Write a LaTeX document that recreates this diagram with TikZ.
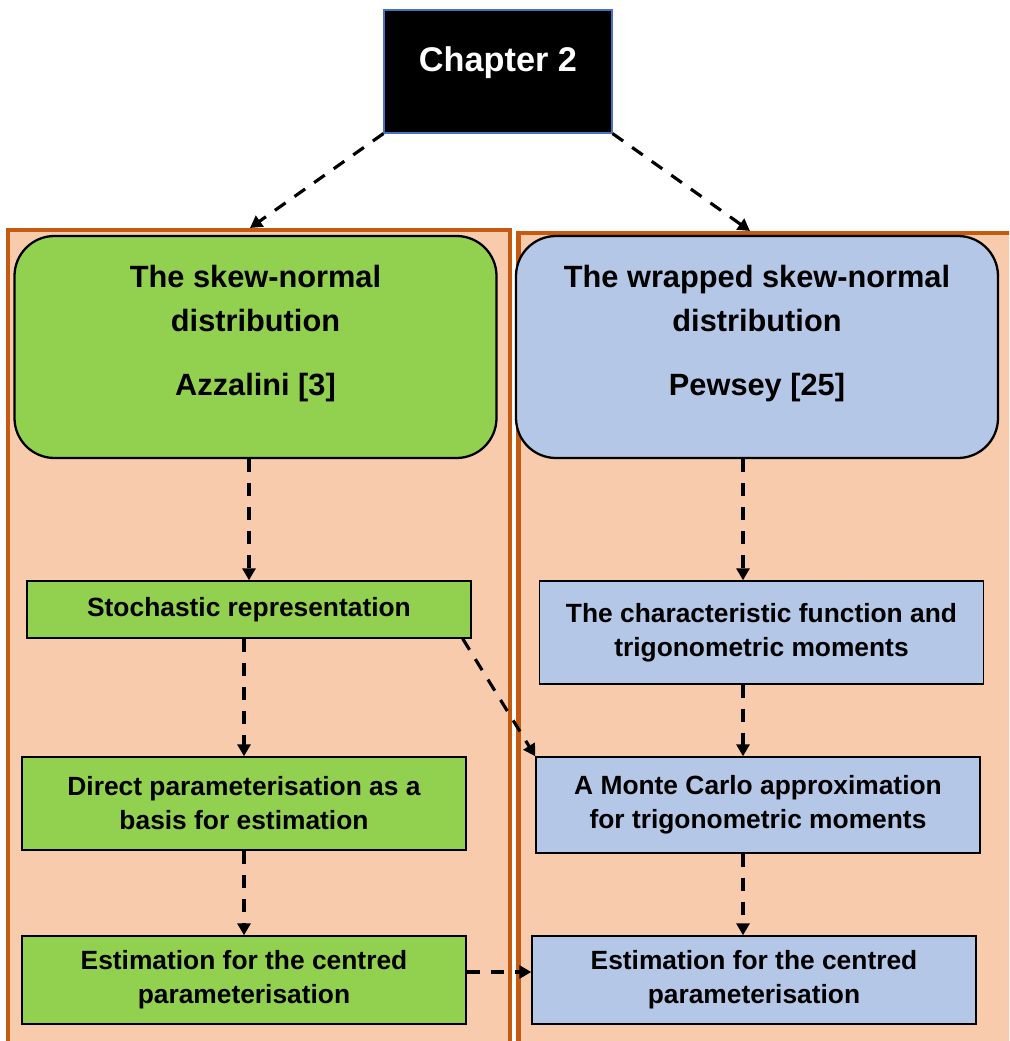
\documentclass[tikz,border=0pt]{standalone}
\usepackage{fontspec}
\setmainfont{Liberation Sans}
\usetikzlibrary{positioning, arrows.meta, calc}
\definecolor{panelfill}{RGB}{248, 203, 173}
\definecolor{paneledge}{RGB}{197, 90, 17}
\definecolor{snGreen}{RGB}{146, 208, 80}
\definecolor{wsnBlue}{RGB}{180, 199, 231}
\definecolor{chapEdge}{RGB}{68, 114, 196}

\begin{document}
\begin{tikzpicture}[>={Triangle[length=0.24cm, width=0.26cm]},
    panel/.style={draw=paneledge, line width=2.3pt, fill=panelfill, minimum width=10.04cm, minimum height=16.7cm, anchor=north},
    bigbox/.style={draw, line width=1.3pt, rounded corners=0.8cm, minimum width=9.64cm, align=center,
      inner sep=0pt, text height=3.18cm, text depth=1.26cm, font=\bfseries\fontsize{17.5}{24.5}\selectfont},
    smallbox/.style={draw, line width=0.8pt, minimum width=8.88cm, align=center,
      font=\bfseries\fontsize{15}{19.4}\selectfont},
    flow/.style={->, line width=1.8pt, dash pattern=on 0.26cm off 0.22cm}]
  \useasboundingbox (0,0) rectangle (20.18,-20.82);
  \clip (0,0) rectangle (20.18,-20.82);

  % chapter and the two panels
  \node[draw=chapEdge, line width=0.6pt, fill=black, text=white, minimum width=4.56cm, inner sep=0pt,
    text height=1.24cm, text depth=1.22cm, font=\bfseries\fontsize{19.5}{24}\selectfont] (ch) at (9.96,-1.43) {Chapter 2};
  \node[panel] (lp) at (5.18,-4.56) {};
  \node[panel] (rp) at (15.39,-4.62) {};
  \coordinate (lin) at (5.0,-4.56);
  \coordinate (rin) at (15.0,-4.62);
  \coordinate (rx) at (14.86,-10);

  % skew-normal column
  \node[bigbox, fill=snGreen] (sn) at (5.11,-6.94) {The skew-normal\\distribution\\[11.9pt]Azzalini [3]};
  \node[smallbox, fill=snGreen, minimum height=1.14cm] (st) at (4.98,-12.19) {Stochastic representation};
  \node[smallbox, fill=snGreen, minimum height=1.86cm] (dp) at (4.88,-16.07) {Direct parameterisation as a\\basis for estimation};
  \node[smallbox, fill=snGreen, minimum height=1.76cm] (el) at (4.88,-19.60) {Estimation for the centred\\parameterisation};

  % wrapped skew-normal column
  \node[bigbox, fill=wsnBlue] (wsn) at (15.14,-6.94) {The wrapped skew-normal\\distribution\\[11.9pt]Pewsey [25]};
  \node[smallbox, fill=wsnBlue, minimum height=2.06cm] (cf) at (15.23,-12.65) {The characteristic function and\\trigonometric moments};
  \node[smallbox, fill=wsnBlue, minimum height=1.92cm] (mc) at (15.16,-16.10) {A Monte Carlo approximation\\for trigonometric moments};
  \node[smallbox, fill=wsnBlue, minimum height=1.76cm] (er) at (15.08,-19.60) {Estimation for the centred\\parameterisation};

  \draw[flow] (ch.south west) -- (lin);
  \draw[flow] (ch.south east) -- (rin);
  \draw[flow] (sn.south -| st) -- (st.north);
  \draw[flow] (st.south -| dp) -- (dp.north);
  \draw[flow] (dp.south) -- (el.north);
  \draw[flow] (wsn.south -| rx) -- (cf.north -| rx);
  \draw[flow] (cf.south -| rx) -- (mc.north -| rx);
  \draw[flow] (mc.south -| rx) -- (er.north -| rx);
  \draw[flow] ([xshift=-0.18cm]st.south east) -- (mc.north west);
  \draw[flow] ([yshift=0.16cm]el.east) -- ([yshift=0.16cm]er.west);
\end{tikzpicture}
\end{document}
